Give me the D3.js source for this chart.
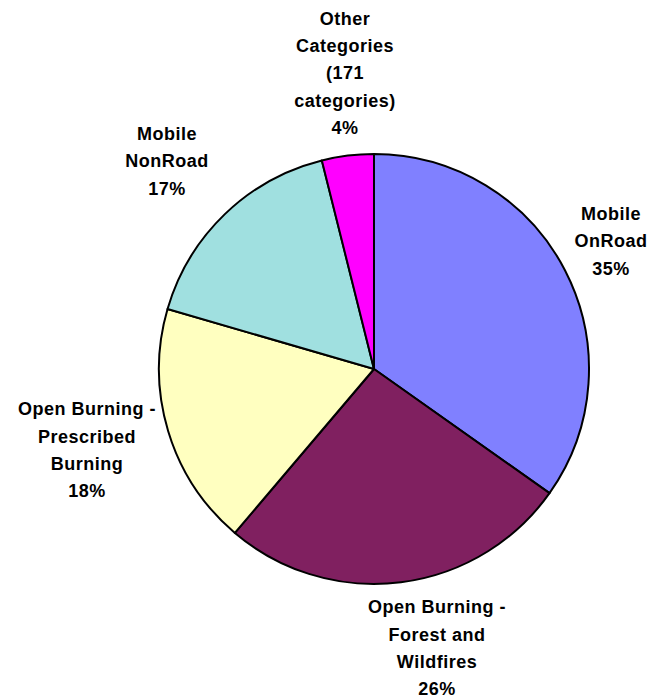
<!DOCTYPE html>
<html lang="en">
<meta charset="utf-8">
<title>Pie</title>
<style>
  body { margin: 0; background: #fff; }
  svg { display: block; }
</style>
<body>
<svg id="canvas"></svg>
<script src="https://cdn.jsdelivr.net/npm/d3@7/dist/d3.min.js"></script>
<script>

    /////////////////////// Data //////////////////////
    var categories = ["Mobile OnRoad", "Open Burning - Forest and Wildfires",
                      "Open Burning - Prescribed Burning", "Mobile NonRoad",
                      "Other Categories (171 categories)"];
    var shares     = [34.8, 26.4, 18.3, 16.6, 3.9];
    var label_lines = [
        ["Mobile", "OnRoad"],
        ["Open Burning -", "Forest and", "Wildfires"],
        ["Open Burning -", "Prescribed", "Burning"],
        ["Mobile", "NonRoad"],
        ["Other", "Categories", "(171", "categories)"]
    ];
    ///////////////////////////////////////////////////

    ////////////////////// Layout /////////////////////
    var dimensions  = [655, 698];
    var cx          = 374;
    var cy          = 369;
    var radius      = 215;
    // centre of each label block, relative to the pie centre
    var label_off   = [[237, -128], [63, 279], [-287, 81], [-207, -208], [-29, -296]];
    var line_height = 27.3;
    ///////////////////////////////////////////////////

    /////////////////////// Style /////////////////////
    var colors      = ["#8080ff", "#802060", "#ffffc0", "#a0e0e0", "#ff00ff"];
    var font_size   = 18;
    ///////////////////////////////////////////////////

    var canvas = d3.select("#canvas")
        .attr("width",  dimensions[0])
        .attr("height", dimensions[1]);

    var pie = d3.pie().sort(null).value(function (d) { return d; });
    var arc = d3.arc().innerRadius(0).outerRadius(radius);

    var g = canvas.append("g").attr("transform", "translate(" + cx + "," + cy + ")");

    g.selectAll("path")
        .data(pie(shares))
        .enter().append("path")
        .attr("d", arc)
        .attr("fill", function (d, i) { return colors[i]; })
        .attr("stroke", "#000")
        .attr("stroke-width", 2)
        .attr("stroke-linejoin", "round");

    var labels = g.selectAll("text.lbl")
        .data(pie(shares))
        .enter().append("text")
        .attr("class", "lbl")
        .attr("text-anchor", "middle")
        .attr("font-family", "Arial, 'Liberation Sans', sans-serif")
        .attr("font-weight", "bold")
        .attr("font-size", font_size)
        .attr("letter-spacing", 0.5)
        .attr("fill", "#000");

    labels.each(function (d, i) {
        var lines = label_lines[i].concat([Math.round(d.data) + "%"]);
        var top   = label_off[i][1] - (lines.length - 1) * line_height / 2;
        var t = d3.select(this);
        lines.forEach(function (s, k) {
            t.append("tspan")
                .attr("x", label_off[i][0])
                .attr("y", top + k * line_height)
                .attr("dy", "0.35em")
                .text(s);
        });
    });

</script>
</body>
</html>
